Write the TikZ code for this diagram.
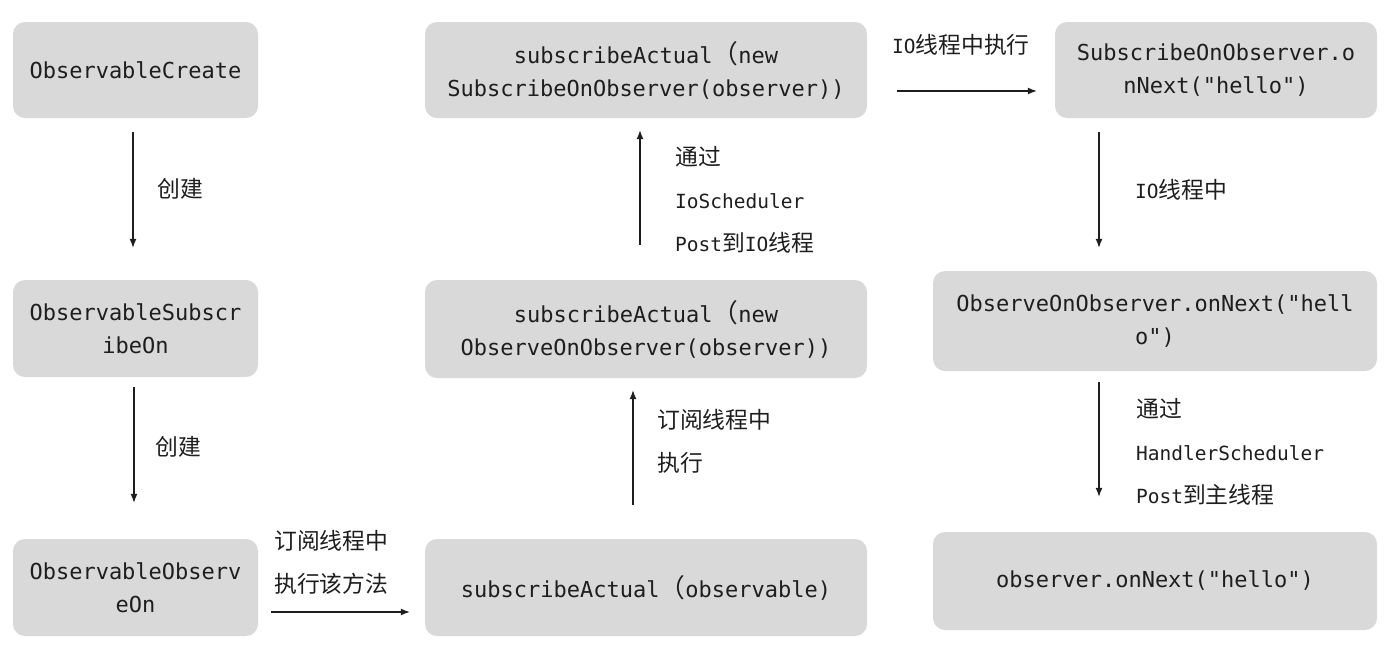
\documentclass[tikz,border=0pt]{standalone}
\usepackage{fontspec}
\setmonofont{DejaVu Sans Mono}
\newfontfamily\zhfont{Noto Sans CJK SC}[Scale=1.17]
\newcommand\zh[1]{{\zhfont #1}}
\usetikzlibrary{arrows.meta}
\definecolor{boxgray}{RGB}{217,217,217}
\definecolor{ink}{RGB}{30,30,30}
\tikzset{
  box/.style={rectangle, rounded corners=12pt, fill=boxgray, draw=none, align=center,
    text=ink, inner sep=0pt, font=\ttfamily\fontsize{22}{33}\selectfont},
  arr/.style={draw=ink, line width=1.2pt, -{Latex[length=9pt,width=7pt]}},
  lbl/.style={anchor=west, inner sep=0pt, align=left, text=ink, font=\ttfamily\fontsize{19.5}{43}\selectfont}
}
\begin{document}
\begin{tikzpicture}[x=1pt,y=1pt]
\useasboundingbox (0,0) rectangle (1386,-649);
% boxes
\node[box, minimum width=245pt, minimum height=96pt] (B1) at (135.5,-70) {ObservableCreate};
\node[box, minimum width=245pt, minimum height=97pt] (B2) at (135.5,-328.5) {ObservableSubscr\\ibeOn};
\node[box, minimum width=245pt, minimum height=97pt] (B3) at (135.5,-587.5) {ObservableObserv\\eOn};
\node[box, minimum width=442pt, minimum height=96pt] (B4) at (646,-70) {subscribeActual\zh{（}new\\SubscribeOnObserver(observer))};
\node[box, minimum width=442pt, minimum height=98pt] (B5) at (646,-329) {subscribeActual\zh{（}new\\ObserveOnObserver(observer))};
\node[box, minimum width=442pt, minimum height=97pt] (B6) at (646,-587.5) {subscribeActual\zh{（}observable)};
\node[box, minimum width=322pt, minimum height=96pt] (B7) at (1216,-70) {SubscribeOnObserver.o\\nNext("hello")};
\node[box, minimum width=444pt, minimum height=100pt] (B8) at (1155,-321) {ObserveOnObserver.onNext("hell\\o")};
\node[box, minimum width=444pt, minimum height=98pt] (B9) at (1155,-581) {observer.onNext("hello")};
% connectors
\draw[arr] ([xshift=-2.5pt,yshift=-14pt]B1.south) -- ([xshift=-2.5pt,yshift=32pt]B2.north);
\draw[arr] ([xshift=-1.5pt,yshift=-10pt]B2.south) -- ([xshift=-1.5pt,yshift=36pt]B3.north);
\draw[arr] ([xshift=13pt,yshift=-24.5pt]B3.east) -- ([xshift=-15pt,yshift=-24.5pt]B6.west);
\draw[arr] ([xshift=-13pt,yshift=34pt]B6.north) -- ([xshift=-13pt,yshift=-12pt]B5.south);
\draw[arr] ([xshift=-6pt,yshift=35pt]B5.north) -- ([xshift=-6pt,yshift=-12pt]B4.south);
\draw[arr] ([xshift=30pt,yshift=-21pt]B4.east) -- ([xshift=-18pt,yshift=-21pt]B7.west);
\draw[arr] ([xshift=-117pt,yshift=-14pt]B7.south) -- ([xshift=-56pt,yshift=23pt]B8.north);
\draw[arr] ([xshift=-56pt,yshift=-11pt]B8.south) -- ([xshift=-56pt,yshift=35pt]B9.north);
% labels
\node[lbl] (L1) at (157,-189) {\zh{创建}};
\node[lbl] (L2) at (155,-447) {\zh{创建}};
\node[lbl] (L3) at (274,-562.5) {\zh{订阅线程中}\\\zh{执行该方法}};
\node[lbl] (L4) at (657,-441.5) {\zh{订阅线程中}\\\zh{执行}};
\node[lbl] (L5) at (675,-200) {\zh{通过}\\IoScheduler\\Post\zh{到}IO\zh{线程}};
\node[lbl] (L6) at (892,-45) {IO\zh{线程中执行}};
\node[lbl] (L7) at (1135,-190) {IO\zh{线程中}};
\node[lbl] (L8) at (1136,-452) {\zh{通过}\\HandlerScheduler\\Post\zh{到主线程}};
\end{tikzpicture}
\end{document}
